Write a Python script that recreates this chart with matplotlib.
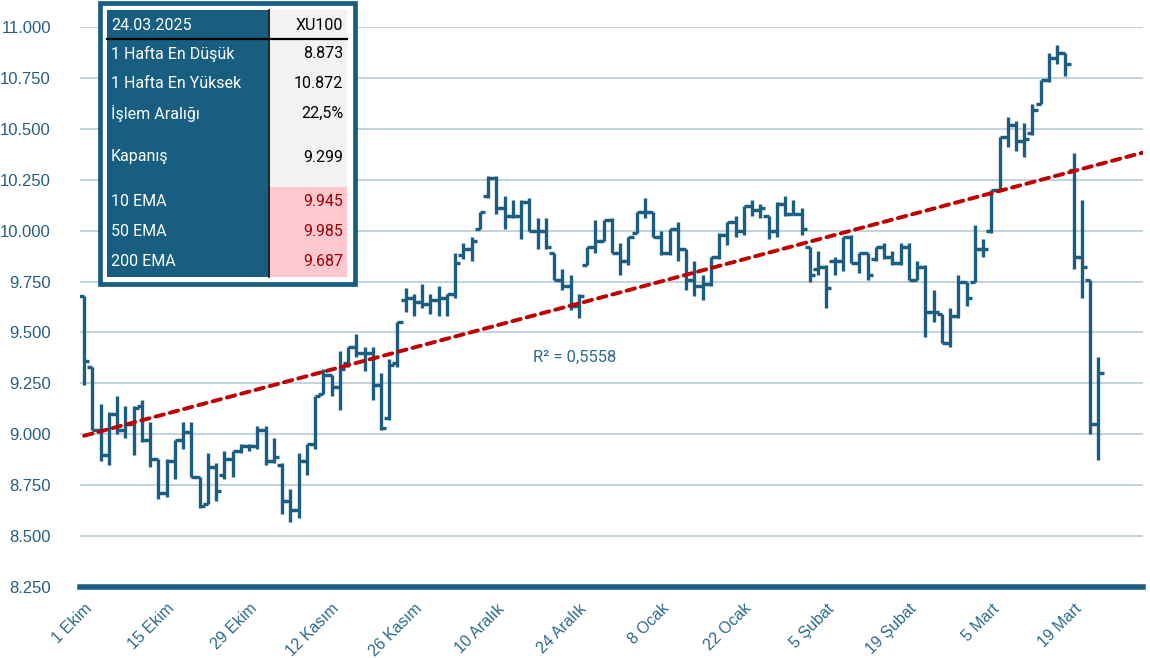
import numpy as np
import matplotlib.pyplot as plt
from matplotlib.patches import Rectangle

# XU100 daily OHLC, 1 Ekim 2024 - 24 Mart 2025 (trading days)
opens = [9.68, 9.33, 9.02, 8.90, 9.10, 9.02, 9.05, 9.14, 8.97, 8.88,
         8.71, 8.87, 8.97, 9.01, 8.79, 8.66, 8.84, 8.80, 8.88, 8.92,
         8.94, 8.94, 9.02, 8.87, 8.85, 8.67, 8.63, 8.87, 8.95, 9.20,
         9.29, 9.23, 9.35, 9.43, 9.40, 9.40, 9.24, 9.08, 9.35, 9.66,
         9.67, 9.65, 9.64, 9.66, 9.67, 9.69, 9.88, 9.91, 10.01, 10.17,
         10.26, 10.11, 10.07, 10.07, 10.14, 10.00, 10.00, 9.89, 9.76, 9.73,
         9.63, 9.83, 9.92, 9.95, 10.05, 9.89, 9.85, 9.99, 10.09, 10.09,
         9.97, 9.89, 10.01, 9.91, 9.76, 9.73, 9.74, 9.87, 9.98, 10.04,
         10.00, 10.12, 10.10, 10.07, 10.00, 10.13, 10.08, 10.08, 9.92, 9.81,
         9.82, 9.85, 9.85, 9.97, 9.84, 9.89, 9.86, 9.92, 9.87, 9.84,
         9.92, 9.76, 9.82, 9.60, 9.59, 9.45, 9.58, 9.75, 9.75, 9.91,
         10.00, 10.20, 10.46, 10.52, 10.44, 10.48, 10.62, 10.74, 10.85, 10.87,
         10.30, 9.87, 9.76, 9.05]
highs = [9.68, 9.33, 9.15, 9.11, 9.19, 9.14, 9.14, 9.17, 9.06, 8.88,
         8.88, 8.97, 9.06, 9.06, 8.79, 8.91, 8.86, 8.92, 8.92, 8.95,
         8.95, 9.04, 9.04, 8.98, 8.86, 8.73, 8.91, 8.95, 9.19, 9.32,
         9.29, 9.41, 9.43, 9.49, 9.43, 9.43, 9.30, 9.37, 9.55, 9.72,
         9.69, 9.74, 9.69, 9.73, 9.69, 9.89, 9.94, 9.97, 10.09, 10.27,
         10.27, 10.17, 10.15, 10.15, 10.16, 10.06, 10.06, 9.89, 9.81, 9.78,
         9.69, 9.92, 10.05, 10.05, 10.06, 9.94, 9.97, 10.09, 10.16, 10.09,
         10.00, 10.01, 10.04, 9.91, 9.85, 9.78, 9.87, 9.99, 10.04, 10.07,
         10.12, 10.15, 10.13, 10.07, 10.14, 10.17, 10.15, 10.11, 9.92, 9.90,
         9.83, 9.87, 9.97, 9.98, 9.89, 9.89, 9.92, 9.94, 9.90, 9.94,
         9.94, 9.85, 9.83, 9.71, 9.59, 9.62, 9.78, 9.75, 10.03, 9.96,
         10.20, 10.46, 10.56, 10.54, 10.53, 10.62, 10.74, 10.87, 10.91, 10.87,
         10.38, 10.15, 9.76, 9.38]
lows = [9.24, 9.02, 8.87, 8.85, 9.00, 8.98, 8.90, 8.96, 8.84, 8.68,
        8.69, 8.78, 8.93, 8.79, 8.64, 8.66, 8.67, 8.78, 8.79, 8.91,
        8.92, 8.93, 8.85, 8.86, 8.61, 8.57, 8.59, 8.80, 8.93, 9.20,
        9.19, 9.12, 9.33, 9.38, 9.31, 9.17, 9.02, 9.07, 9.33, 9.60,
        9.58, 9.62, 9.59, 9.58, 9.58, 9.67, 9.86, 9.85, 10.01, 10.16,
        10.08, 10.01, 10.06, 9.96, 10.00, 9.91, 9.91, 9.76, 9.71, 9.61,
        9.57, 9.83, 9.89, 9.95, 9.89, 9.78, 9.83, 9.99, 10.06, 9.97,
        9.88, 9.88, 9.85, 9.71, 9.68, 9.66, 9.73, 9.86, 9.93, 9.97,
        9.98, 10.07, 10.06, 9.96, 9.97, 10.07, 10.08, 9.98, 9.75, 9.78,
        9.62, 9.78, 9.80, 9.84, 9.79, 9.76, 9.85, 9.86, 9.83, 9.83,
        9.76, 9.76, 9.48, 9.55, 9.45, 9.43, 9.57, 9.63, 9.75, 9.87,
        9.99, 10.20, 10.41, 10.39, 10.36, 10.47, 10.62, 10.73, 10.82, 10.76,
        9.81, 9.67, 9.00, 8.873]
closes = [9.36, 9.02, 8.90, 9.10, 9.02, 9.05, 9.13, 8.97, 8.88, 8.71,
          8.87, 8.97, 9.01, 8.79, 8.65, 8.84, 8.72, 8.88, 8.92, 8.94,
          8.94, 9.02, 8.87, 8.89, 8.67, 8.63, 8.87, 8.95, 9.19, 9.29,
          9.23, 9.32, 9.43, 9.40, 9.40, 9.24, 9.03, 9.34, 9.55, 9.67,
          9.65, 9.64, 9.66, 9.67, 9.69, 9.84, 9.91, 9.95, 10.09, 10.26,
          10.11, 10.07, 10.07, 10.14, 10.00, 10.00, 9.92, 9.76, 9.73, 9.63,
          9.68, 9.92, 9.95, 10.05, 9.89, 9.85, 9.97, 10.09, 10.09, 9.97,
          9.89, 10.01, 9.91, 9.76, 9.73, 9.74, 9.87, 9.98, 10.04, 10.00,
          10.12, 10.10, 10.11, 10.00, 10.13, 10.08, 10.08, 10.01, 9.78, 9.82,
          9.72, 9.85, 9.97, 9.84, 9.89, 9.78, 9.92, 9.87, 9.84, 9.92,
          9.76, 9.82, 9.60, 9.60, 9.45, 9.58, 9.75, 9.67, 9.91, 9.91,
          10.20, 10.46, 10.52, 10.44, 10.45, 10.59, 10.74, 10.85, 10.87, 10.82,
          9.87, 9.82, 9.05, 9.299]

tick_pos = [0, 10, 20, 30, 40, 50, 60, 70, 80, 90, 100, 110, 120]
tick_labels = ['1 Ekim', '15 Ekim', '29 Ekim', '12 Kasım', '26 Kasım', '10 Aralık',
               '24 Aralık', '8 Ocak', '22 Ocak', '5 Şubat', '19 Şubat', '5 Mart', '19 Mart']
y_ticks = [8.25, 8.5, 8.75, 9.0, 9.25, 9.5, 9.75, 10.0, 10.25, 10.5, 10.75, 11.0]

table_head = ['24.03.2025', 'XU100']
table_names = ['1 Hafta En Düşük', '1 Hafta En Yüksek', 'İşlem Aralığı', 'Kapanış',
               '10 EMA', '50 EMA', '200 EMA']
table_values = ['8.873', '10.872', '22,5%', '9.299', '9.945', '9.985', '9.687']
r2_text = 'R² = 0,5558'

bar_col = '#1B5E82'
teal = '#175E80'

fig = plt.figure(figsize=(11.5, 6.58), dpi=100)
ax = fig.add_axes([80 / 1150, 71 / 658, 1063 / 1150, 560 / 658])

x = np.arange(len(closes))
w = 0.62
ax.vlines(x, lows, highs, color=bar_col, lw=2.4, zorder=3)
ax.hlines(opens, x - w, x, color=bar_col, lw=2.4, zorder=3)
ax.hlines(closes, x, x + w, color=bar_col, lw=2.4, zorder=3)

xmin, xmax = -0.5, 128.4
coef = np.polyfit(x, closes, 1)
tx = np.array([0, xmax])
ax.plot(tx, np.polyval(coef, tx), color='#C00000', lw=2.8, ls=(0, (2.2, 1.6)),
        dash_capstyle='round', zorder=4)
ax.text(54.4, 9.38, r2_text, color='#2E6B8E', fontsize=12, va='center', ha='left',
        family=['Roboto', 'DejaVu Sans'])

ax.set_xlim(xmin, xmax)
ax.set_ylim(8.25, 11.0)
ax.set_yticks(y_ticks)
ax.set_yticklabels([f'{v:.3f}' for v in y_ticks])
ax.grid(axis='y', color='#C3D3DE', lw=1.4, zorder=0)
ax.axhline(8.25, color=bar_col, lw=4, zorder=5, clip_on=False)
for s in ax.spines.values():
    s.set_visible(False)
ax.tick_params(axis='y', length=0, pad=21, labelcolor='#275E80', labelsize=12)
ax.tick_params(axis='x', length=0, pad=10, labelcolor='#2A6B8F', labelsize=11.5)
ax.set_xticks(tick_pos)
ax.set_xticklabels(tick_labels, rotation=45, ha='right', va='top', rotation_mode='anchor')
for lab in ax.get_yticklabels():
    lab.set_family(['Liberation Sans', 'DejaVu Sans'])
for lab in ax.get_xticklabels():
    lab.set_family(['Liberation Sans Narrow', 'Liberation Sans', 'DejaVu Sans'])

# info table drawn in pixel coordinates
ov = fig.add_axes([0, 0, 1, 1], zorder=10)
ov.set_xlim(0, 1150)
ov.set_ylim(658, 0)
ov.axis('off')
ov.add_patch(Rectangle((100, 3), 255, 281, fc='white', ec=teal, lw=3.4))
ov.add_patch(Rectangle((107, 10), 161, 267, fc=teal, ec='none'))
ov.add_patch(Rectangle((268, 10), 79, 177, fc='#F2F2F2', ec='none'))
ov.add_patch(Rectangle((268, 187), 79, 90, fc='#FFC7CE', ec='none'))
ov.plot([268.5, 268.5], [10, 277], color='black', lw=1.2)
ov.plot([107, 347], [39, 39], color='black', lw=1.6)

tf = ['Roboto', 'DejaVu Sans']
fs = 11.5
ov.text(111, 25, table_head[0], color='white', fontsize=fs, va='center', family=tf)
ov.text(343, 25, table_head[1], color='black', fontsize=fs, va='center', ha='right', family=tf)
row_y = [54, 84, 113, 157, 202, 232, 261]
for i, (name, val) in enumerate(zip(table_names, table_values)):
    ov.text(111, row_y[i], name, color='white', fontsize=fs, va='center', family=tf)
    vc = '#9C0006' if i >= 4 else 'black'
    ov.text(343, row_y[i], val, color=vc, fontsize=fs, va='center', ha='right', family=tf)

fig.savefig('out.png', dpi=100)
